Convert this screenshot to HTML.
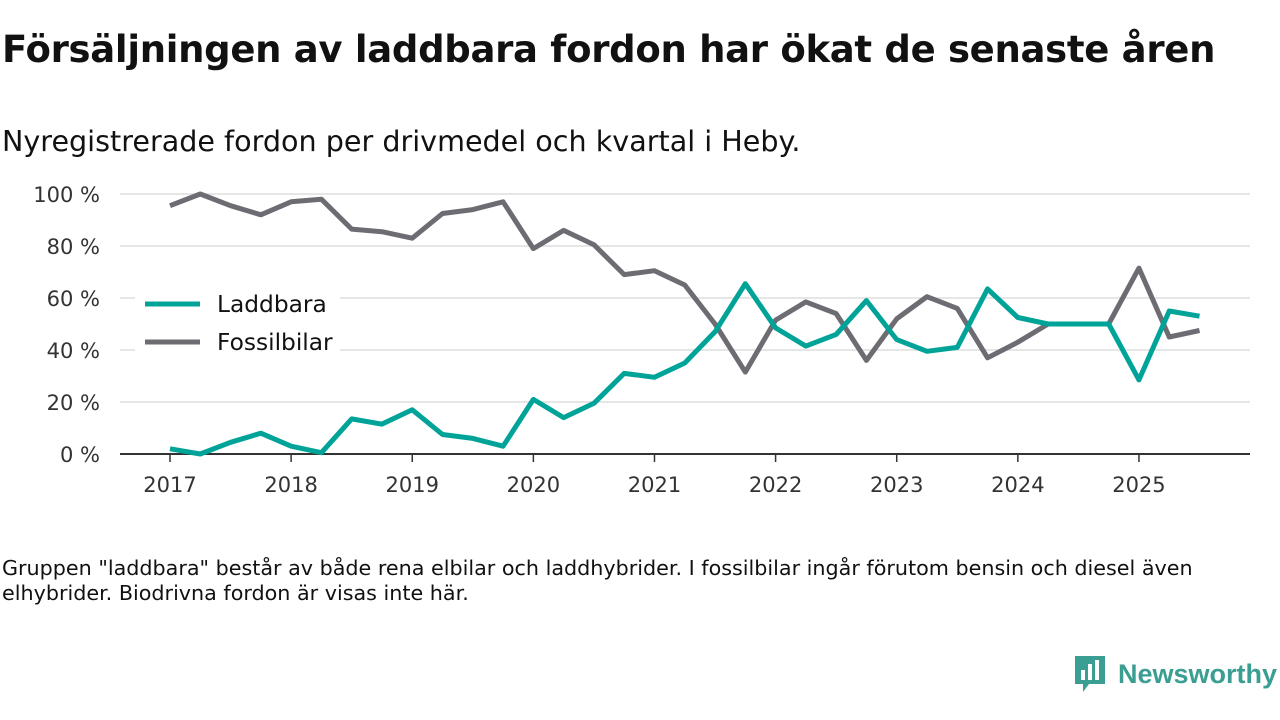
<!DOCTYPE html>
<html><head><meta charset="utf-8"><style>
body{margin:0;width:1280px;height:720px;background:#fff;font-family:"Liberation Sans","DejaVu Sans",sans-serif;color:#111;overflow:hidden;position:relative}
h1{position:absolute;left:2px;top:28px;margin:0;font-size:37px;font-weight:bold;font-family:"DejaVu Sans","Liberation Sans",sans-serif;letter-spacing:-0.3px}
.sub{position:absolute;left:2px;top:124px;font-size:28.6px;font-family:"DejaVu Sans",sans-serif}
.note{position:absolute;left:2px;top:556px;font-size:20.7px;line-height:25px;width:1240px;font-family:"DejaVu Sans",sans-serif}
svg{position:absolute;left:0;top:0}
</style></head><body>
<h1>Försäljningen av laddbara fordon har ökat de senaste åren</h1>
<div class="sub">Nyregistrerade fordon per drivmedel och kvartal i Heby.</div>
<svg id="c" width="1280" height="720"></svg>
<div class="note">Gruppen "laddbara" består av både rena elbilar och laddhybrider. I fossilbilar ingår förutom bensin och diesel även elhybrider. Biodrivna fordon är visas inte här.</div>
<div style="position:absolute;left:1073px;top:654px;height:40px;display:flex;align-items:center">
<svg width="34" height="40" viewBox="0 0 34 40" style="position:static"><path d="M2 2h30v28H16l-6 8v-8H2z" fill="#3a9e92"/><rect x="8" y="16" width="4" height="10" fill="#fff"/><rect x="15" y="10" width="4" height="16" fill="#fff"/><rect x="22" y="6" width="4" height="20" fill="#fff"/></svg>
<span style="font-size:27px;color:#3a9e92;font-family:'Liberation Sans',sans-serif;margin-left:11px;font-weight:bold">Newsworthy</span></div>
<script>
const categories=[];for(let y=2017;y<=2025;y++)for(let q=1;q<=4;q++)categories.push(y+"Q"+q);categories.length=35;
const laddbara=[2,0,4.5,8,3,0.5,13.5,11.5,17,7.5,6,3,21,14,19.5,31,29.5,35,47,65.5,48.5,41.5,46,59,44,39.5,41,63.5,52.5,50,50,50,28.5,55,53];
const fossil=[95.5,100,95.5,92,97,98,86.5,85.5,83,92.5,94,97,79,86,80.5,69,70.5,65,50,31.5,51.5,58.5,54,36,52,60.5,56,37,43,50,50,50,71.5,45,47.5];
const yTicks=[0,20,40,60,80,100];
const xYears=[2017,2018,2019,2020,2021,2022,2023,2024,2025];
const svg=document.getElementById('c');const NS='http://www.w3.org/2000/svg';
const x=i=>170+i*30.28, y=v=>454-v*2.6;
function mk(t,a){const e=document.createElementNS(NS,t);for(const k in a)e.setAttribute(k,a[k]);svg.appendChild(e);return e;}
yTicks.forEach(v=>{if(v>0){const g=mk('line',{x1:120,x2:1250,y1:y(v),y2:y(v),stroke:'#ddd','stroke-width':1.5});

}
const t=mk('text',{x:100,y:y(v)+8,'text-anchor':'end','font-size':21,fill:'#333','font-family':'DejaVu Sans,sans-serif'});t.textContent=v+' %';

});
const ax=mk('line',{x1:120,x2:1250,y1:454,y2:454,stroke:'#333','stroke-width':2});


xYears.forEach((yr,k)=>{const px=x(k*4);mk('line',{x1:px,x2:px,y1:454,y2:462,stroke:'#333','stroke-width':1.5});
const t=mk('text',{x:px,y:492,'text-anchor':'middle','font-size':21,fill:'#333','font-family':'DejaVu Sans,sans-serif'});t.textContent=yr;

});
function line(d,c,name){const p=mk('polyline',{points:d.map((v,i)=>x(i)+','+y(v)).join(' '),fill:'none',stroke:c,'stroke-width':5,'stroke-linejoin':'round'});

}
line(fossil,'#6d6c73','fossil-line');
line(laddbara,'#00a398','laddbara-line');
mk('rect',{x:135,y:285,width:205,height:72,fill:'#fff'});
const lg=[['Laddbara','#00a398',304],['Fossilbilar','#6d6c73',342]];
lg.forEach(([n,c,yy])=>{mk('line',{x1:145,x2:200,y1:yy,y2:yy,stroke:c,'stroke-width':5});
const t=mk('text',{x:217,y:yy+8,'font-size':23.3,fill:'#111','font-family':'DejaVu Sans,sans-serif'});t.textContent=n;

});
</script>
</body></html>
